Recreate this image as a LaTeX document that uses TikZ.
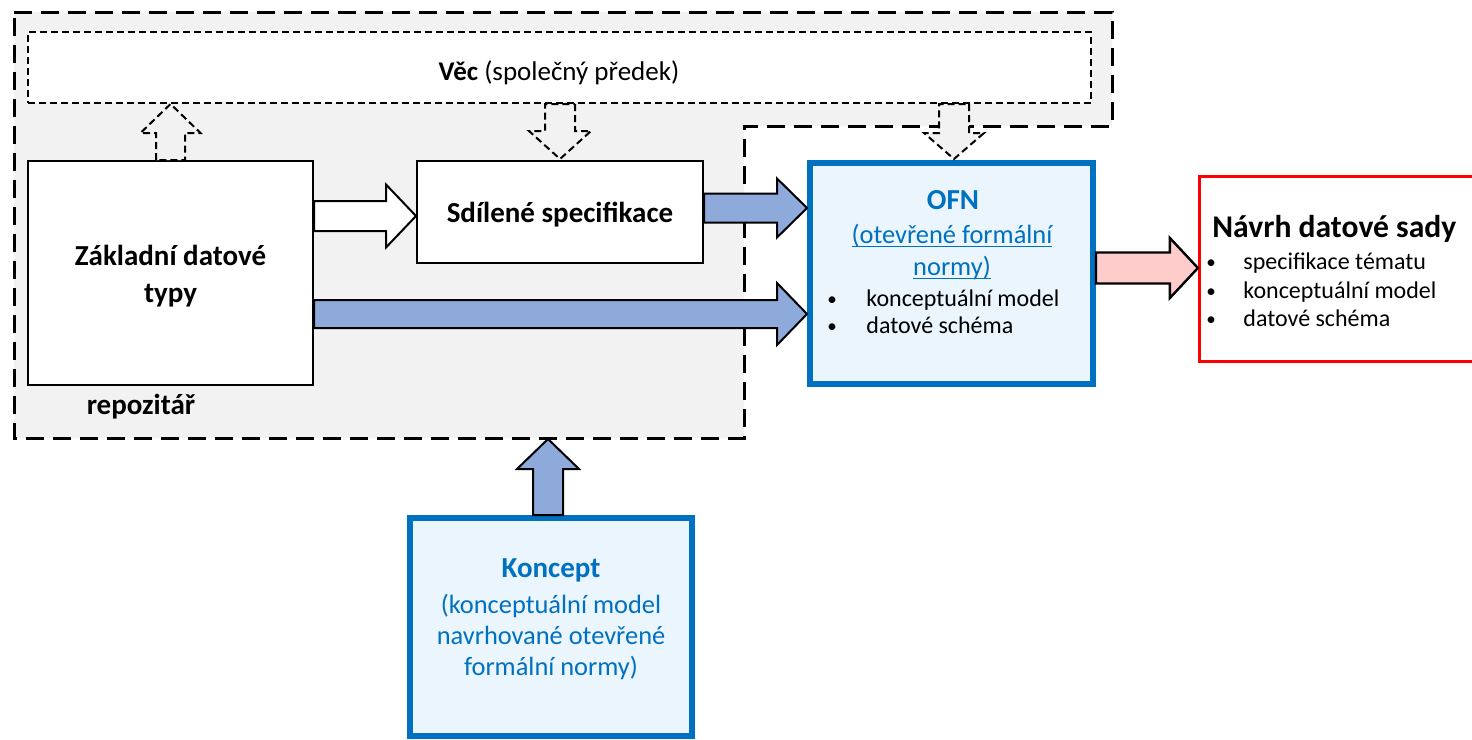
\documentclass[tikz,border=0pt]{standalone}
\usepackage{fontspec}
\setmainfont{Carlito}
\usetikzlibrary{calc}
\definecolor{regiongrey}{HTML}{F2F2F2}
\definecolor{arrowblue}{HTML}{8EAADB}
\definecolor{ofnblue}{HTML}{0070C0}
\definecolor{lightblue}{HTML}{EAF5FD}
\definecolor{arrowpink}{HTML}{FFCCCC}
\definecolor{navrhred}{HTML}{FF0000}
% block arrow: #1 style, #2 start, #3 tip, #4 shaft half-width, #5 head half-width, #6 head length
\newcommand\blockarrow[6]{%
  \coordinate (ba-h) at ($(#3)!#6!(#2)$);
  \draw[#1] ($(#2)!#4!90:(#3)$) -- ($(ba-h)!#4!90:(#3)$) -- ($(ba-h)!#5!90:(#3)$) -- (#3)
    -- ($(ba-h)!#5!-90:(#3)$) -- ($(ba-h)!#4!-90:(#3)$) -- ($(#2)!#4!-90:(#3)$) -- cycle;
}
\newcommand\ofnul[1]{{\setbox0\hbox{#1}\rlap{\rule[-2.2pt]{\wd0}{0.7pt}}\box0}}
\begin{document}
\begin{tikzpicture}[x=0.5pt,y=-0.5pt,
  plainbox/.style={rectangle, draw=black, line width=1pt, fill=white, inner sep=0pt},
  bluebox/.style={rectangle, draw=ofnblue, line width=3pt, fill=lightblue, inner sep=0pt},
  redbox/.style={rectangle, draw=navrhred, line width=1.6pt, fill=white, inner sep=0pt},
  regionline/.style={draw=black, fill=regiongrey, line width=1.5pt, dash pattern=on 9pt off 4.5pt},
  thindash/.style={line width=1pt, dash pattern=on 3.5pt off 2pt},
  dasharrow/.style={draw=black, fill=regiongrey, thindash, line join=miter},
  whitearrow/.style={draw=black, fill=white, line width=1pt, line join=miter},
  bluearrow/.style={draw=black, fill=arrowblue, line width=1pt, line join=miter},
  pinkarrow/.style={draw=black, fill=arrowpink, line width=1.2pt, line join=miter},
  boldtxt/.style={font=\fontsize{14.5}{17}\selectfont\bfseries, anchor=base, inner sep=0pt},
  bodytxt/.style={font=\fontsize{12}{14}\selectfont, anchor=base west, inner sep=0pt},
  bullettxt/.style={font=\fontsize{9.5}{12}\selectfont, anchor=base, inner sep=0pt},
  bluetxt/.style={font=\fontsize{13.2}{16}\selectfont, text=ofnblue, anchor=base, inner sep=0pt}
]
\useasboundingbox (0,0) rectangle (1472,739);
\clip (0,0) rectangle (1472,739);

% repository region
\path[regionline] (14,12) -- (1112,12) -- (1112,126) -- (744,126) -- (744,438) -- (14,438) -- cycle;
\coordinate (repoS) at (548,439);

% boxes
\node[plainbox, thindash, minimum width=531.5pt, minimum height=35.5pt] (vec) at (559.5,67.5) {};
\node[plainbox, minimum width=142.5pt, minimum height=112pt] (zakl) at (170.5,273) {};
\node[plainbox, minimum width=143pt, minimum height=51pt] (sdil) at (560,212) {};

% dashed inheritance arrows
\coordinate (d1s) at (zakl.north);
\coordinate (d1e) at (zakl.north |- vec.south);
\blockarrow{dasharrow}{d1s}{d1e}{7.25pt}{15pt}{14.5pt}
\coordinate (d2s) at (sdil.north |- vec.south);
\coordinate (d2e) at ([yshift=0.5pt]sdil.north);
\blockarrow{dasharrow}{d2s}{d2e}{7.5pt}{15.5pt}{14pt}

\node[bluebox, minimum width=141.5pt, minimum height=110.5pt] (ofn) at (951.5,273.5) {};
\node[redbox, minimum width=150.25pt, minimum height=92.5pt] (navrh) at (1349.75,269) {};
\node[bluebox, minimum width=141pt, minimum height=109pt] (koncept) at (551,627) {};

\coordinate (d3s) at ([xshift=1.25pt]ofn.north |- vec.south);
\coordinate (d3e) at ([xshift=1.25pt,yshift=0.5pt]ofn.north);
\blockarrow{dasharrow}{d3s}{d3e}{7.5pt}{15pt}{13pt}

% solid arrows
\coordinate (a1s) at ([yshift=28.5pt]zakl.east);
\coordinate (a1e) at ([yshift=-2pt]sdil.west);
\blockarrow{whitearrow}{a1s}{a1e}{7.5pt}{15.75pt}{15pt}
\coordinate (a2s) at ([yshift=2pt]sdil.east);
\coordinate (a2e) at ([yshift=32.75pt]ofn.west);
\blockarrow{bluearrow}{a2s}{a2e}{7.25pt}{14.75pt}{15pt}
\coordinate (a3s) at ([yshift=-20.5pt]zakl.east);
\coordinate (a3e) at ([yshift=-20.25pt]ofn.west);
\blockarrow{bluearrow}{a3s}{a3e}{7pt}{15.5pt}{15pt}
\coordinate (a4s) at ([yshift=2.75pt]ofn.east);
\coordinate (a4e) at ([yshift=0.5pt]navrh.west);
\blockarrow{pinkarrow}{a4s}{a4e}{7.75pt}{15pt}{14pt}
\coordinate (a5s) at ([xshift=-1.5pt]koncept.north);
\blockarrow{bluearrow}{a5s}{repoS}{7.5pt}{15.5pt}{15pt}

% texts
\node[anchor=base, inner sep=0pt, font=\fontsize{13.5}{16}\selectfont] (vecT) at (559,80) {\textbf{Věc} (společný předek)};
\node[boldtxt] (zaklT1) at (170.5,265) {Základní datové};
\node[boldtxt] (zaklT2) at (170.5,302) {typy};
\node[boldtxt] (sdilT) at (560,222) {Sdílené specifikace};
\node[boldtxt] (repoT) at (141,414) {repozitář};

\node[boldtxt, text=ofnblue] (ofnT) at (953,209) {OFN};
\node[bluetxt] (ofnT1) at (952,243) {\ofnul{(otevřené formální}};
\node[bluetxt] (ofnT2) at (952,275) {\ofnul{normy)}};
\node[bullettxt] (ofnB1) at (832,305) {•};
\node[bodytxt] (ofnL1) at (866,306) {konceptuální model};
\node[bullettxt] (ofnB2) at (832,332) {•};
\node[bodytxt] (ofnL2) at (866,333) {datové schéma};

\node[font=\fontsize{15.8}{19}\selectfont\bfseries, anchor=base west, inner sep=0pt] (navrhT) at (1212,237) {Návrh datové sady};
\node[bullettxt] (navB1) at (1211,268) {•};
\node[bodytxt] (navL1) at (1243,269) {specifikace tématu};
\node[bullettxt] (navB2) at (1211,297) {•};
\node[bodytxt] (navL2) at (1243,298) {konceptuální model};
\node[bullettxt] (navB3) at (1211,325) {•};
\node[bodytxt] (navL3) at (1243,326) {datové schéma};

\node[boldtxt, text=ofnblue] (konT) at (551,577) {Koncept};
\node[bluetxt] (konT1) at (551,613) {(konceptuální model};
\node[bluetxt] (konT2) at (551,644) {navrhované otevřené};
\node[bluetxt] (konT3) at (551,675) {formální normy)};
\end{tikzpicture}
\end{document}
